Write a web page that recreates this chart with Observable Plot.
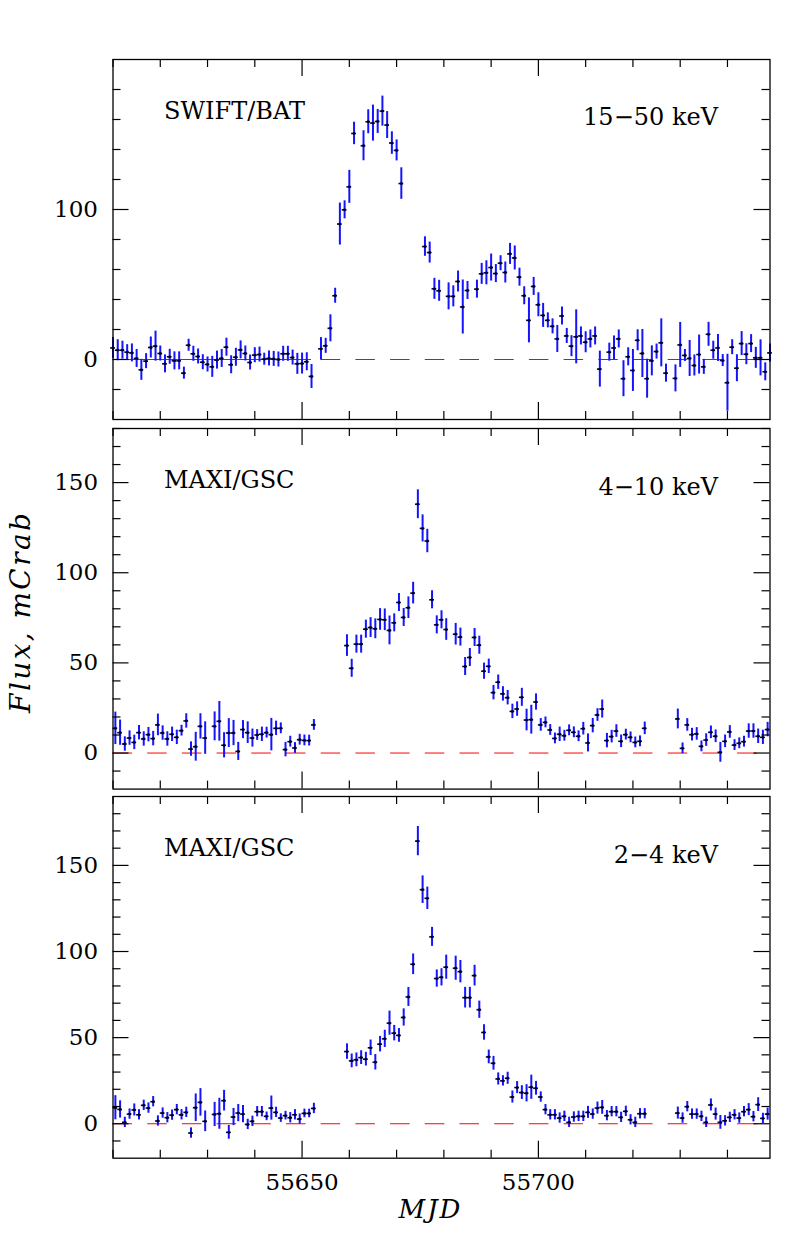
<!DOCTYPE html>
<html><head><meta charset="utf-8">
<script src="https://cdn.jsdelivr.net/npm/d3@7"></script>
<script src="https://cdn.jsdelivr.net/npm/@observablehq/plot@0.6"></script>
<style>
body{margin:0;background:#fff;}
#wrap{position:relative;width:797px;height:1260px;overflow:hidden;background:#fff;}
#wrap svg{position:absolute;left:0;}
</style></head><body><div id="wrap"></div>
<script>
// ---------- DATA ----------
// SWIFT/BAT 15-50 keV (mCrab)
const batMJD = [55610,55611,55612,55613,55614,55615,55616,55617,55618,55619,55620,55621,55622,55623,55624,55625,55626,55627,55628,55629,55630,55631,55632,55633,55634,55635,55636,55637,55638,55639,55640,55641,55642,55643,55644,55645,55646,55647,55648,55649,55650,55651,55652,
55654,55655,55656,55657,55658,55659,55660,55661,
55663,55664,55665,55666,55667,55668,55669,55670,55671,
55676,55677,55678,55679,
55681,55682,55683,55684,55685,
55687,55688,55689,55690,55691,55692,55693,55694,55695,55696,55697,55698,55699,55700,55701,55702,55703,55704,55705,55706,55707,55708,55709,55710,55711,55712,55713,
55715,55716,55717,55718,55719,55720,55721,55722,55723,55724,55725,55726,55727,
55729,55730,55731,55732,55733,55734,55735,55736,55737,55738,55739,55740,55741,55742,55743,55744,55745,55746,55747,55748,55749];
const batFlux = [7.7,6.2,6.2,4.9,4.4,0.7,-6.9,-1.1,8.0,8.9,4.0,-2.9,1.8,-0.9,-0.9,-9.1,9.5,3.8,2.0,-1.8,-3.3,-4.9,-0.4,0.7,8.2,-3.5,1.5,6.4,4.0,-2.0,2.9,3.3,0.2,0.7,0.4,0.0,3.8,3.8,1.3,-2.9,-2.7,-1.5,-11.3,
7.1,9.1,20.8,42.5,90.3,99.8,115.1,150.7,
142.5,158.5,157.6,158.7,165.6,156.3,144.3,139.4,117.3,
75.3,71.3,47.1,45.8,
42.1,42.1,52.0,35.0,46.0,
46.9,57.1,57.8,61.3,57.3,64.2,58.0,70.4,67.7,54.9,42.5,26.1,48.7,36.5,29.4,26.1,22.1,13.7,29.0,15.7,8.9,15.1,15.7,11.5,13.7,15.7,-6.4,
4.9,7.7,13.7,-12.8,1.8,-7.3,12.8,4.0,-12.8,-0.9,5.3,11.1,-9.1,
-12.6,9.7,2.7,0.7,-4.0,3.3,-4.9,16.8,6.2,7.7,-0.7,-15.5,8.2,-5.8,10.6,3.5,10.6,1.1,1.1,-8.2,4.4];
const batErr = [7,7,6,5,6,6,7,5,7,10,5,6,5,6,6,4,4,5,5,5,5,7,6,6,6,6,6,6,5,5,5,5,4,5,5,5,5,5,5,7,7,6,8,
7.5,5,9,5,14,6,11,7.5,
10,8,12,8,10,9,7.5,7,10.5,
6.5,7,7,7,
9,7,7,18,6,
6,7,8,9,6,5,7,7,8,6,6,15,6,8,8,5,5,9,6,5,7,18,6,7,6,6,12,
6,8,6,12,6,14,7,16,13,10,5,16,6,
9,15,4,12,7,13,5,8,6,9,4,19,5,9,8,7,6,7,12,6,6];

// MAXI/GSC time grid (both bands)
const gscMJD = [55610.5,55611.5,55612.5,55613.5,55614.5,55615.5,55616.5,55617.5,55618.5,55619.5,55620.5,55621.5,55622.5,55623.5,55624.5,55625.5,55626.5,55627.5,55628.5,55629.5,
55631.5,55632.5,55633.5,55634.5,55635.5,55636.5,55637.5,55638.5,55639.5,55640.5,55641.5,55642.5,55643.5,55644.5,55645.5,55646.5,55647.5,55648.5,55649.5,55650.5,55651.5,55652.5,
55659.5,55660.5,55661.5,55662.5,55663.5,55664.5,55665.5,55666.5,55667.5,55668.5,55669.5,55670.5,55671.5,55672.5,55673.5,55674.5,55675.5,55676.5,55677.5,55678.5,55679.5,55680.5,
55682.5,55683.5,55684.5,55685.5,55686.5,55687.5,55688.5,55689.5,55690.5,55691.5,55692.5,55693.5,55694.5,55695.5,55696.5,55697.5,55698.5,55699.5,55700.5,55701.5,55702.5,
55703.5,55704.5,55705.5,55706.5,55707.5,55708.5,55709.5,55710.5,55711.5,55712.5,55713.5,55714.5,55715.5,55716.5,55717.5,55718.5,55719.5,55720.5,55721.5,55722.5,
55729.5,55730.5,55731.5,55732.5,55733.5,55734.5,55735.5,55736.5,55737.5,55738.5,55739.5,55740.5,55741.5,55742.5,55743.5,55744.5,55745.5,55746.5,55747.5,55748.5];

// MAXI/GSC 4-10 keV
const gscHardFlux = [13.7,11.3,5.0,8.3,5.9,11.3,7.8,10.2,8.0,15.6,11.1,7.8,10.4,8.7,12.4,17.8,2.2,3.5,14.8,8.3,
14.8,17.6,4.3,11.1,11.1,0.9,13.0,11.3,8.3,10.0,10.4,11.3,10.2,13.7,13.7,1.9,6.3,2.8,7.4,7.0,6.9,15.6,
59.6,47.0,60.4,60.4,68.7,69.6,68.9,74.1,73.9,68.0,72.2,83.5,75.2,80.6,88.7,138.0,124.6,117.6,85.0,71.1,73.9,68.5,
65.9,64.3,48.0,53.0,64.1,59.8,45.4,48.1,33.5,39.3,32.8,30.7,23.1,24.4,30.9,18.3,18.5,28.3,15.6,17.0,12.8,
8.1,10.4,9.6,12.6,11.5,9.3,13.5,5.6,15.2,21.1,24.4,6.9,9.1,12.2,6.5,10.2,8.7,5.9,6.5,13.7,
18.9,2.6,15.6,10.2,10.6,3.7,7.2,11.5,9.3,0.4,6.5,11.7,4.4,5.4,6.3,12.2,12.2,9.3,8.7,13.0];
const gscHardErr = [9,7,4,4,4,4,4,4,4,6,4,4,4,4,3,4,4,8,7,9,
8,11,7,8,7,5,5,6,5,3,4,3,9,4,3,4,3,3,3,3,3,3,
6,5,5,5,5,5.5,5.5,6,6,8,5,5,5,6,6,8,7.5,6.5,5,5,5,6,
6,5,5,5,5,5,4.5,4,4,4,4,4,4,4,5,6,8,4.5,3.5,3,3,
3,4,3,3,3,3,3.5,5,4,3.5,5,4,3.5,3.5,3.5,3,3,3,3,3.5,
5.5,3,3.5,3.5,3.5,3,3.5,3.5,3.5,5.5,3.5,3.5,3,3,3,4,4,4,4,4];

// MAXI/GSC 2-4 keV
const gscSoftFlux = [9.3,8.3,0.8,5.6,8.0,5.2,10.7,9.1,12.8,1.6,6.2,3.5,5.0,8.2,5.2,6.6,-5.4,9.3,12.4,1.4,
5.4,5.8,13.4,-5.0,3.9,6.2,5.6,-0.4,1.4,7.0,7.0,4.3,9.1,6.6,3.3,4.7,3.5,5.2,2.7,6.0,6.0,8.9,
41.9,36.5,37.1,38.4,37.5,44.1,35.7,46.2,49.3,58.4,52.6,51.3,61.7,73.6,92.6,164.1,135.9,130.9,108.5,84.3,85.0,90.9,
90.3,88.3,73.2,73.2,86.0,66.2,53.0,38.8,35.1,26.0,24.9,26.4,15.5,21.0,18.1,17.7,21.2,20.6,15.5,8.2,5.2,
5.2,3.3,4.3,0.8,3.9,4.3,4.3,6.6,5.6,9.1,9.5,4.7,7.0,7.0,3.7,7.2,2.3,0.8,5.8,5.8,
6.2,3.3,9.9,5.6,5.6,4.3,0.8,10.9,5.6,0.8,1.7,3.7,5.2,3.3,7.0,8.2,4.1,11.1,3.1,5.6];
const gscSoftErr = [7,5,3,3,3.5,3,3,3,3,3,3,3,3,3,3,3,3,8,8,6,
7,9,6,4,5,5,5,3,3,3,3,2.5,7,3,2.5,2.5,3,3,3,2.5,2.5,3,
4.5,4,4,4,4,4.5,4.5,4.5,5,7,4.5,4,5,5.5,6,8.5,8,6.5,5.5,5,5,7,
7,6.5,6,6,6,5,4.5,4,4,3.5,3,3.5,3.5,3.5,4,5,7,4,3,3,3,
3,3,3,3,3,3,3,3.5,3,3.5,4,3,3,3,3,3,3,3,3,3,
3.5,3,3,3,3,3,3,3.5,3.5,4,3,3,3,3,3,3.5,3,4,3,3.5];

// axis ticks
const xDomain = [55610, 55749];
const xMinorTicks = [55610,55620,55630,55640,55660,55670,55680,55690,55710,55720,55730,55740];
const xMajorTicks = [55650, 55700];
const xTickLabels = [55650, 55700];
const batYMinor = [-20,20,40,60,80,120,140,160,180];
const batYMajor = [0,100];
const batYLabels = [0,100];
const gscYMinor = [-10,10,20,30,40,60,70,80,90,110,120,130,140,160,170,180];
const gscYMajor = [0,50,100,150];
const gscYLabels = [0,50,100,150];
const batSolidZero = [55610, 55652];

// ---------- DRAW ----------
const W = 797, ML = 112.5, MR = 27.5, FW = W - ML - MR;
const FONT = "DejaVu Serif";
const wrap = document.getElementById("wrap");

function table(mjd, flux, err) {
  return mjd.map((m, i) => ({mjd: m, flux: flux[i], err: err[i]}));
}

function panel(cfg) {
  const data = table(cfg.mjd, cfg.flux, cfg.err);
  const H = cfg.frameH, mt = 12, mb = cfg.mb ?? 12;
  const marks = [
    Plot.ruleY([0], {stroke: "#ff0000", strokeWidth: 1, strokeDasharray: "19.5,15.2"}),
    ...(cfg.solid ? [Plot.ruleY([0], {x1: cfg.solid[0], x2: cfg.solid[1], stroke: "#ff0000", strokeWidth: 1})] : []),
    Plot.ruleX(data, {x: "mjd", y1: d => d.flux - d.err, y2: d => d.flux + d.err, stroke: "#1414ff", strokeWidth: 2}),
    Plot.ruleY(data, {y: "flux", x1: d => d.mjd - 0.5, x2: d => d.mjd + 0.5, stroke: "#000040", strokeWidth: 1.6}),
    Plot.dot(data, {x: "mjd", y: "flux", r: 1.4, fill: "#000020", stroke: null}),
    // y ticks left/right
    Plot.tickY(cfg.yMinor, {y: d => d, insetRight: FW - 8, stroke: "black", strokeWidth: 1.2}),
    Plot.tickY(cfg.yMajor, {y: d => d, insetRight: FW - 16, stroke: "black", strokeWidth: 1.2}),
    Plot.tickY(cfg.yMinor, {y: d => d, insetLeft: FW - 8, stroke: "black", strokeWidth: 1.2}),
    Plot.tickY(cfg.yMajor, {y: d => d, insetLeft: FW - 16, stroke: "black", strokeWidth: 1.2}),
    // x ticks top/bottom
    Plot.tickX(xMinorTicks, {x: d => d, insetBottom: H - 8, stroke: "black", strokeWidth: 1.2}),
    Plot.tickX(xMajorTicks, {x: d => d, insetBottom: H - 17, stroke: "black", strokeWidth: 1.2}),
    Plot.tickX(xMinorTicks, {x: d => d, insetTop: H - 8, stroke: "black", strokeWidth: 1.2}),
    Plot.tickX(xMajorTicks, {x: d => d, insetTop: H - 17, stroke: "black", strokeWidth: 1.2}),
    Plot.frame({stroke: "black", strokeWidth: 1.3}),
    Plot.text(cfg.yLabels, {y: d => d, text: d => String(d), frameAnchor: "left", dx: -15, textAnchor: "end", lineAnchor: "middle", fontSize: 23, fontFamily: FONT, fill: "black"}),
    Plot.text([cfg.instrument], {frameAnchor: "top-left", dx: 51, dy: cfg.instDy, textAnchor: "start", lineAnchor: "top", fontSize: 24, fontFamily: FONT, fill: "black"}),
    Plot.text([cfg.band], {frameAnchor: "top-right", dx: -52, dy: cfg.bandDy, textAnchor: "end", lineAnchor: "top", fontSize: 24, fontFamily: FONT, fill: "black"}),
    ...(cfg.extra || [])
  ];
  const svg = Plot.plot({
    width: W, height: H + mt + mb,
    marginLeft: ML, marginRight: MR, marginTop: mt, marginBottom: mb,
    x: {domain: xDomain, axis: null},
    y: {domain: cfg.yDomain, axis: null},
    style: {background: "transparent", overflow: "visible"},
    marks
  });
  svg.style.top = (cfg.frameTop - mt) + "px";
  wrap.appendChild(svg);
  return svg;
}

panel({mjd: batMJD, flux: batFlux, err: batErr, yDomain: [-40, 200], frameTop: 59.3, frameH: 360,
  yMinor: batYMinor, yMajor: batYMajor, yLabels: batYLabels, solid: batSolidZero,
  instrument: "SWIFT/BAT", band: "15\u221250 keV", instDy: 42, bandDy: 48});

const p2 = panel({mjd: gscMJD, flux: gscHardFlux, err: gscHardErr, yDomain: [-20, 180], frameTop: 427.7, frameH: 360.6,
  yMinor: gscYMinor, yMajor: gscYMajor, yLabels: gscYLabels,
  instrument: "MAXI/GSC", band: "4\u221210 keV", instDy: 42.3, bandDy: 49,
  extra: [Plot.text(["Flux, mCrab"], {frameAnchor: "left", dx: -92, dy: 3, rotate: -90, textAnchor: "middle", lineAnchor: "middle", fontSize: 28, fontStyle: "italic", fontFamily: FONT, fill: "black"})]});

const p3 = panel({mjd: gscMJD, flux: gscSoftFlux, err: gscSoftErr, yDomain: [-20, 190], frameTop: 796, frameH: 361.7, mb: 80,
  yMinor: gscYMinor.filter(v => v <= 180), yMajor: gscYMajor, yLabels: gscYLabels,
  instrument: "MAXI/GSC", band: "2\u22124 keV", instDy: 42.3, bandDy: 49,
  extra: [
    Plot.text(xTickLabels, {x: d => d, text: d => String(d), frameAnchor: "bottom", dy: 15, lineAnchor: "top", textAnchor: "middle", fontSize: 23, fontFamily: FONT, fill: "black"}),
    Plot.text(["MJD"], {frameAnchor: "bottom", dx: -11, dy: 41, lineAnchor: "top", textAnchor: "middle", fontSize: 26, fontStyle: "italic", fontFamily: FONT, fill: "black"})
  ]});

// letter spacing tweaks for the wide plotter-style font
d3.selectAll("#wrap text").each(function() {
  const t = this.textContent;
  if (t === "Flux, mCrab") d3.select(this).attr("letter-spacing", "2.4px");
  if (t === "MJD") d3.select(this).attr("letter-spacing", "2px");
});
</script></body></html>
